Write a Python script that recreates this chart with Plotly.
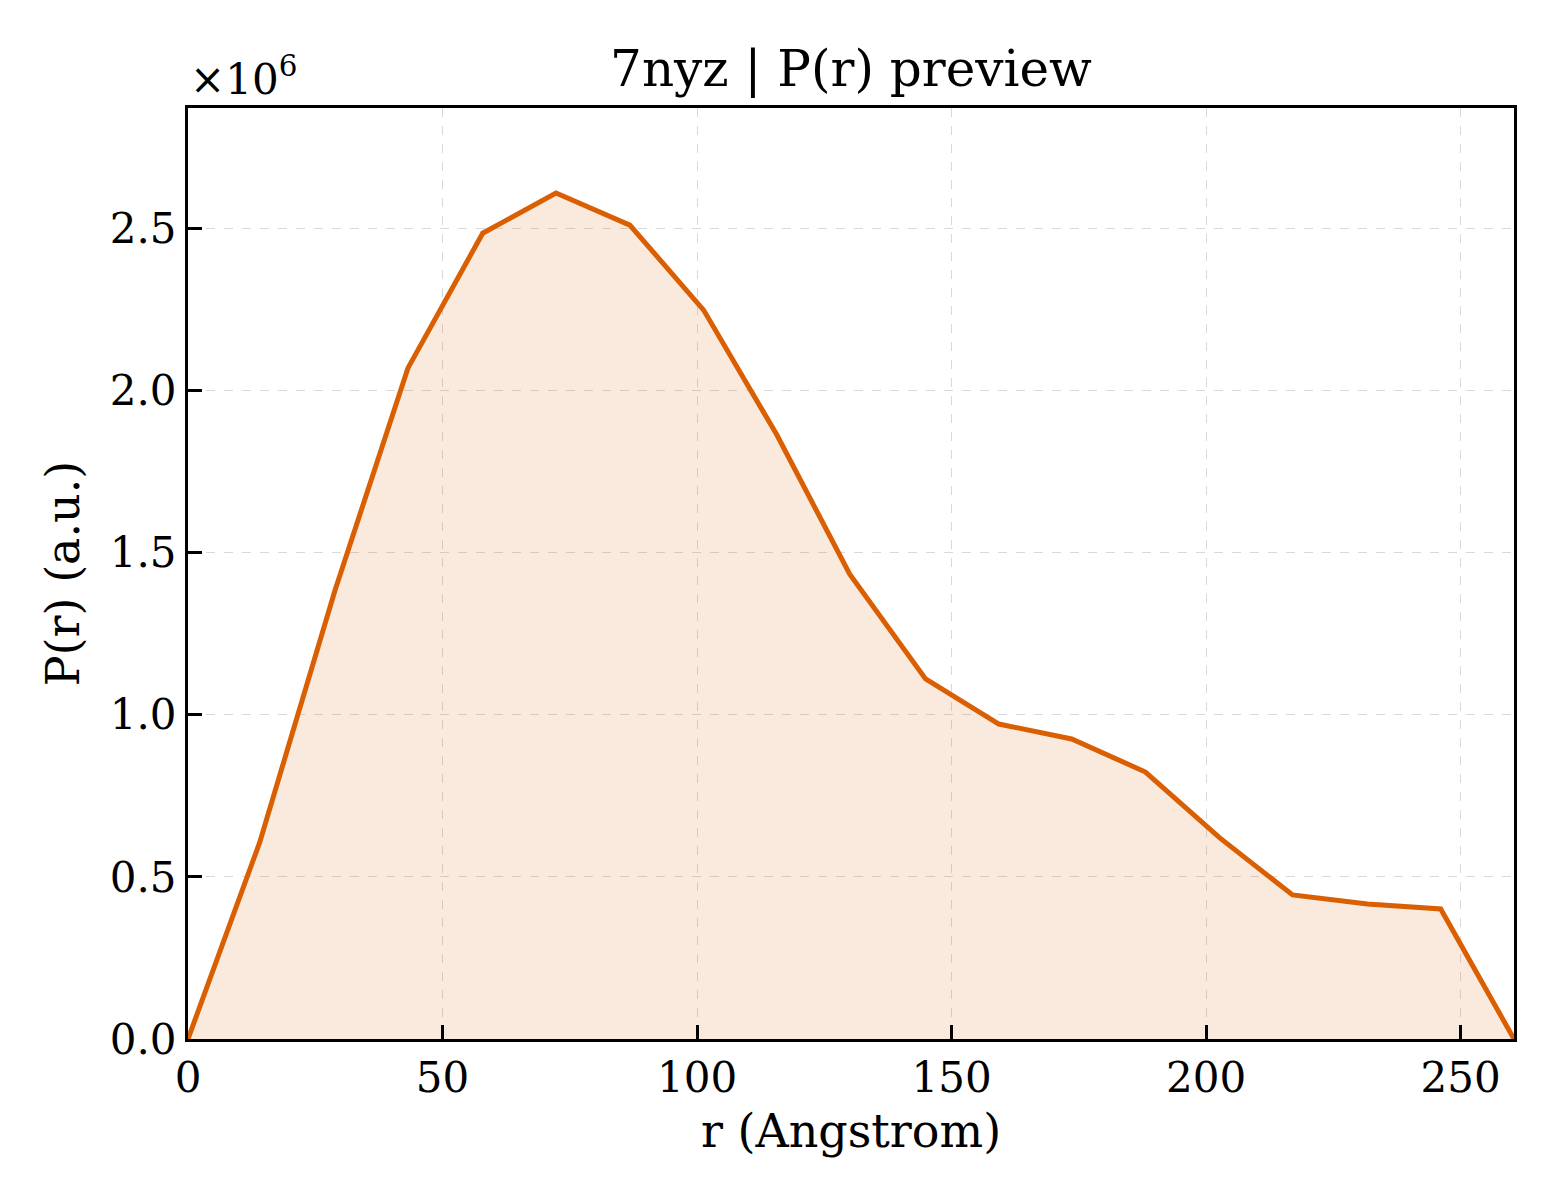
import plotly.graph_objects as go

r_vals = [0.0, 14.1, 28.9, 43.2, 57.9, 72.3, 86.8, 101.3, 115.7, 130.0, 144.9,
          159.3, 173.6, 188.1, 202.7, 217.0, 231.7, 246.1, 260.5]
p_vals = [0.0, 0.607, 1.384, 2.068, 2.484, 2.608, 2.509, 2.247, 1.862, 1.433, 1.110,
          0.971, 0.925, 0.823, 0.620, 0.444, 0.416, 0.401, 0.0]  # x 1e6
x_ticks = [0, 50, 100, 150, 200, 250]
y_ticks = [0.0, 0.5, 1.0, 1.5, 2.0, 2.5]
y_tick_labels = ["0.0", "0.5", "1.0", "1.5", "2.0", "2.5"]

FONT = "DejaVu Serif"
fig = go.Figure()
fig.add_trace(go.Scatter(x=r_vals, y=p_vals, mode="lines", fill="tozeroy",
                         fillcolor="rgba(217,95,2,0.13)",
                         line=dict(color="#D95F02", width=5), showlegend=False))

axis_common = dict(showline=True, linecolor="black", linewidth=3, mirror=True,
                   ticks="inside", ticklen=14, tickwidth=3, tickcolor="black",
                   showgrid=True, gridcolor="#d9d9d9", gridwidth=1, griddash="dash",
                   zeroline=False, tickfont=dict(family=FONT, size=42, color="black"))

fig.update_xaxes(range=[0, 260.5], tickvals=x_ticks,
                 title=dict(text="r (Angstrom)", font=dict(family=FONT, size=46, color="black"), standoff=14),
                 **axis_common)
fig.update_yaxes(range=[0, 2.87], tickvals=y_ticks, ticktext=y_tick_labels,
                 title=dict(text="P(r) (a.u.)", font=dict(family=FONT, size=46, color="black"), standoff=16),
                 **axis_common)

fig.add_annotation(text="×10<sup>6</sup>", xref="paper", yref="paper", x=0, y=1.0,
                   xanchor="left", yanchor="bottom", showarrow=False, yshift=2,
                   font=dict(family=FONT, size=42, color="black"))

fig.update_layout(width=1560, height=1200, plot_bgcolor="white", paper_bgcolor="white",
                  margin=dict(l=180, r=54, t=100, b=169),
                  title=dict(text="7nyz | P(r) preview", x=0.5, xref="paper", xanchor="center",
                             y=1 - 60/1200, yanchor="middle",
                             font=dict(family=FONT, size=50, color="black")))

fig.write_html("out.html")
